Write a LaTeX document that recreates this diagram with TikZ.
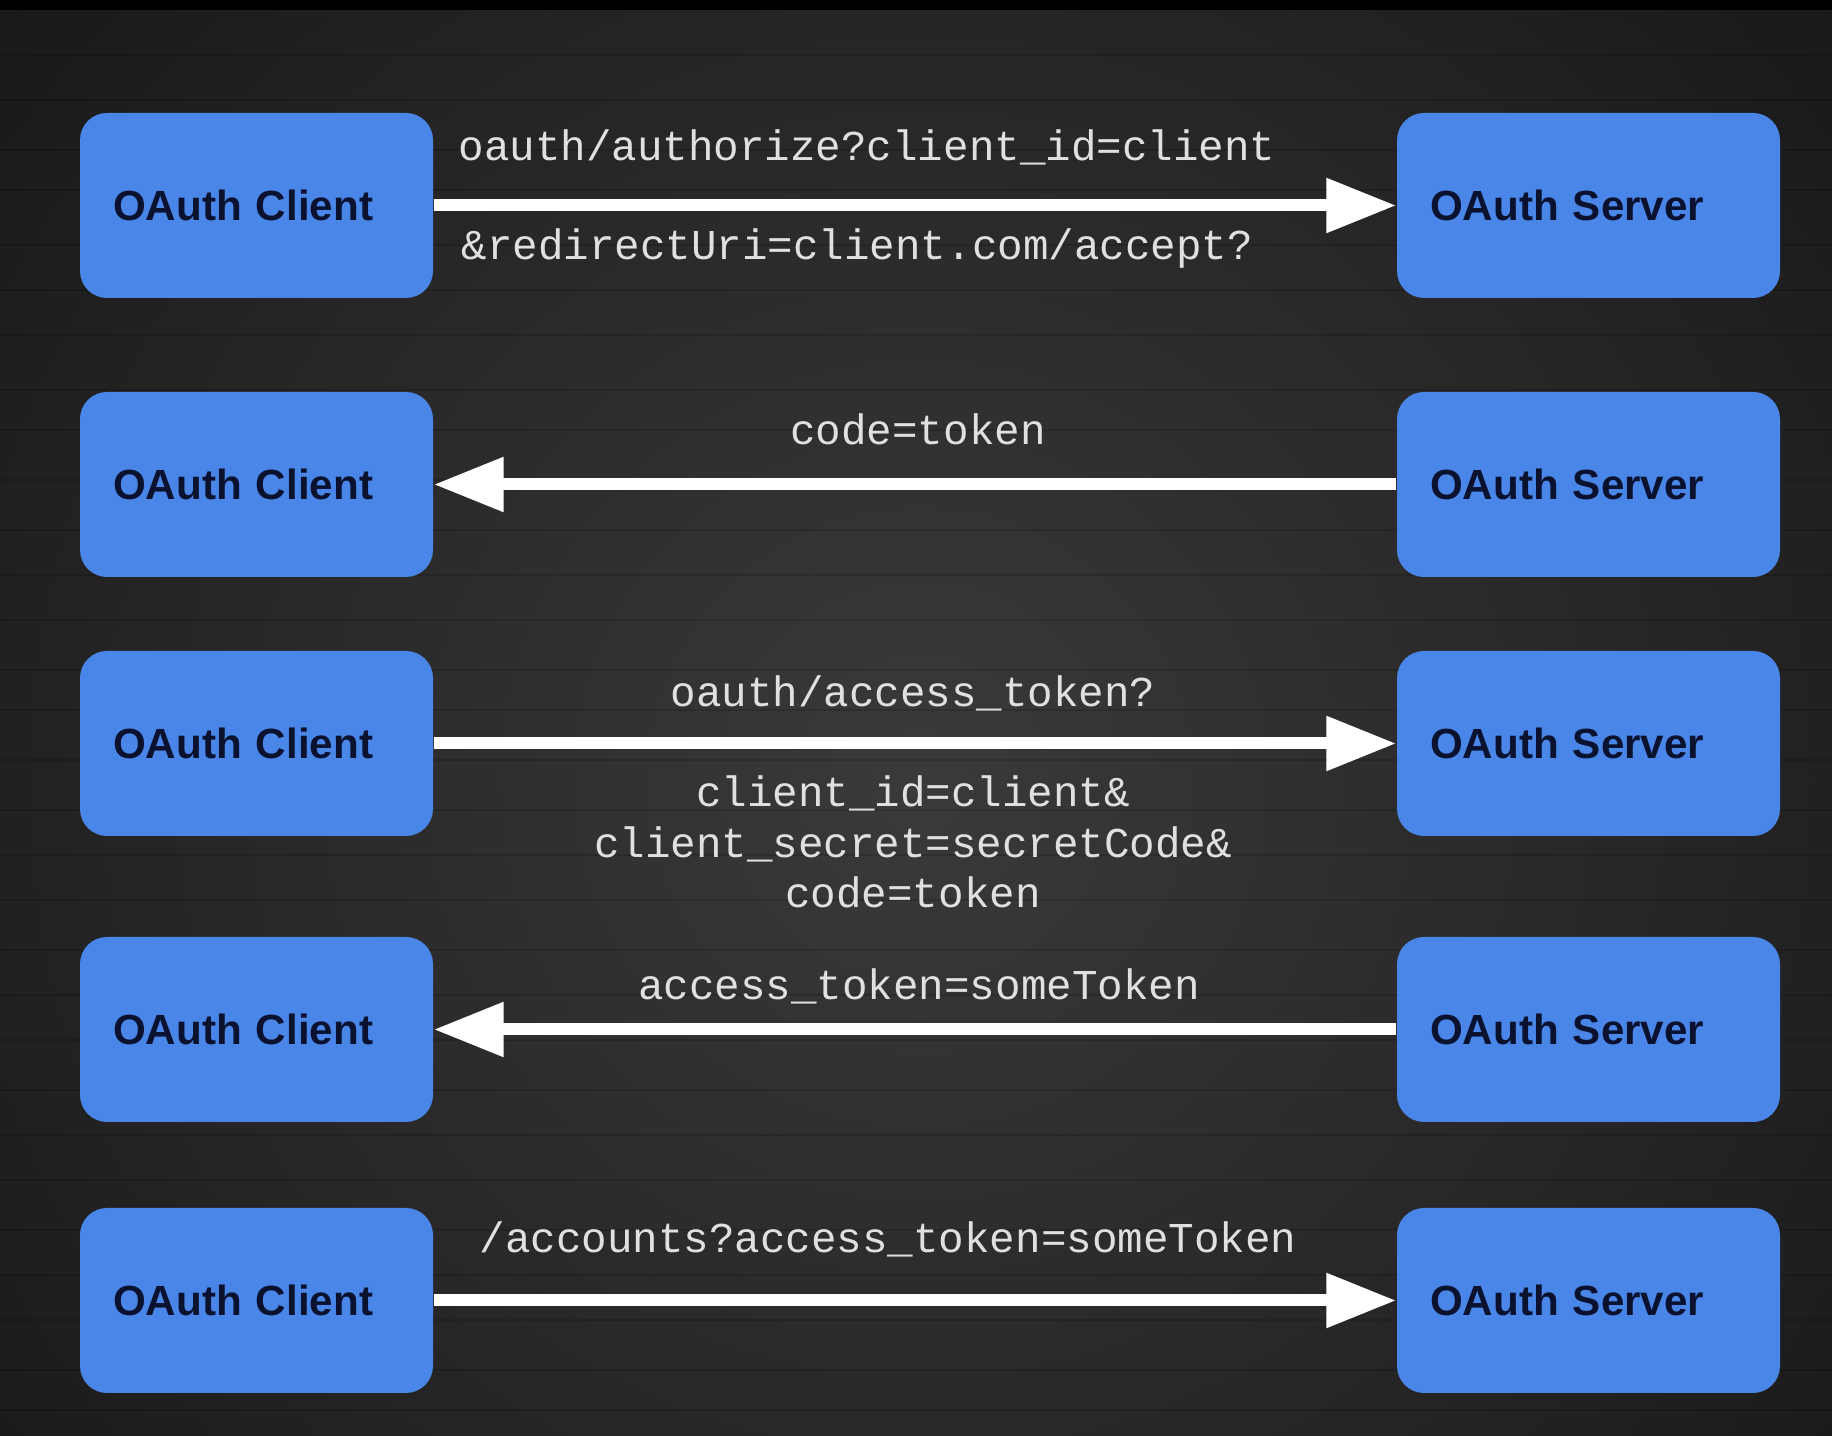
\documentclass[tikz,border=0pt]{standalone}
\usepackage{fontspec}
\setmainfont{Liberation Sans}
\setmonofont{Liberation Mono}
\usetikzlibrary{arrows.meta}

\definecolor{boxblue}{RGB}{74,134,232}
\definecolor{boxtext}{RGB}{10,18,48}
\definecolor{msgtext}{RGB}{224,224,224}
\definecolor{bgmid}{RGB}{58,58,58}
\definecolor{bgdark}{RGB}{14,14,14}

\tikzset{
  party/.style={fill=boxblue, rounded corners=0.27cm, minimum height=1.85cm,
    inner ysep=0pt, inner xsep=0.33cm, align=left, text=boxtext,
    font=\bfseries\fontsize{12}{14}\selectfont},
  clientbox/.style={party, text width=2.87cm},
  serverbox/.style={party, text width=3.17cm},
  msg/.style={white, line width=0.12cm, -{Triangle[length=0.7cm,width=0.52cm]}},
  msglabel/.style={text=msgtext, inner sep=0pt,
    font=\ttfamily\fontsize{12.1}{14.5}\selectfont}
}

\begin{document}
\begin{tikzpicture}

\useasboundingbox (0,0) rectangle (18.32,-14.36);

% Background
\fill[black] (0,0) rectangle (18.32,-14.36);
\begin{scope}
\clip (0,-0.11) rectangle (18.32,-14.36);
\shade[inner color=bgmid, outer color=bgdark] (9.2,-7.8) circle (16cm);
\foreach \y in {0.55,1.0,1.5,1.9,2.45,2.9,3.35,3.9,4.3,4.8,5.3,5.75,6.2,6.7,7.1,7.6,8.1,8.55,9.0,9.5,9.95,10.4,10.9,11.35,11.8,12.3,12.75,13.2,13.7,14.1}
  \draw[black, opacity=0.15, line width=0.7pt] (0,-\y) -- (18.32,-\y);
\end{scope}


% First row
\node[clientbox] (c1) at (2.565,-2.055) {OAuth Client};
\node[serverbox] (s1) at (15.885,-2.055) {OAuth Server};

\draw[msg] (c1)--(s1);

\node[msglabel, anchor=base west] (l1a) at (4.58,-1.61) {oauth/authorize?client\_id=client};
\node[msglabel, anchor=base west] (l1b) at (4.61,-2.60) {\&redirectUri=client.com/accept?};


% Second row
\node[clientbox] (c2) at (2.565,-4.845) {OAuth Client};
\node[serverbox] (s2) at (15.885,-4.845) {OAuth Server};

\draw[msg] (s2)--(c2);

\node[msglabel, anchor=base] (l2) at (9.18,-4.45) {code=token};


% Third row
\node[clientbox] (c3) at (2.565,-7.435) {OAuth Client};
\node[serverbox] (s3) at (15.885,-7.435) {OAuth Server};

\draw[msg] (c3)--(s3);

\node[msglabel, anchor=base] (l3a) at (9.13,-7.07) {oauth/access\_token?};
\node[msglabel, anchor=base, align=center] (l3b) at (9.13,-9.08)
  {client\_id=client\&\\client\_secret=secretCode\&\\code=token};


% Fourth row
\node[clientbox] (c4) at (2.565,-10.295) {OAuth Client};
\node[serverbox] (s4) at (15.885,-10.295) {OAuth Server};

\draw[msg] (s4)--(c4);

\node[msglabel, anchor=base] (l4) at (9.19,-10.00) {access\_token=someToken};


% Fifth row
\node[clientbox] (c5) at (2.565,-13.005) {OAuth Client};
\node[serverbox] (s5) at (15.885,-13.005) {OAuth Server};

\draw[msg] (c5)--(s5);

\node[msglabel, anchor=base] (l5) at (8.88,-12.53) {/accounts?access\_token=someToken};

\end{tikzpicture}
\end{document}
